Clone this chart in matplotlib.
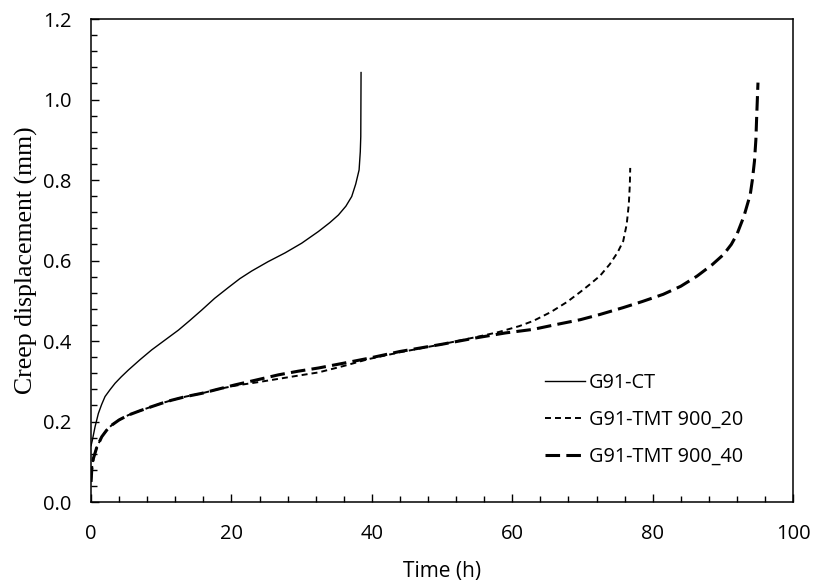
#!/usr/bin/env python3
"""Creep displacement vs. time for G91 specimens."""

import matplotlib

matplotlib.use("Agg")
import matplotlib.pyplot as plt
from matplotlib.ticker import MultipleLocator, FormatStrFormatter

plt.rcParams["font.family"] = ["Open Sans", "DejaVu Sans"]
plt.rcParams["lines.scale_dashes"] = False

# G91-CT
ct_time = [0, 0.19, 0.57, 1.04, 1.5, 1.99, 2.7, 3.42, 4.3, 5.32, 7.0, 8.64,
           10.5, 12.44, 14.0, 15.77, 17.6, 19.56, 21.2, 22.89, 25.2, 27.64,
           30.0, 32.38, 34.0, 35.23, 36.3, 37.13, 37.7, 38.18, 38.35, 38.42,
           38.46]
ct_disp = [0.14, 0.154, 0.187, 0.220, 0.242, 0.262, 0.279, 0.295, 0.311,
           0.328, 0.354, 0.378, 0.402, 0.427, 0.450, 0.477, 0.506, 0.533,
           0.555, 0.574, 0.597, 0.619, 0.643, 0.672, 0.694, 0.713, 0.735,
           0.759, 0.79, 0.825, 0.87, 0.908, 1.067]

# G91-TMT 900_20
tmt20_time = [0, 0.1, 0.33, 0.8, 1.52, 2.2, 2.94, 4.0, 5.32, 7.0, 8.64, 10.0,
              11.49, 13.5, 15.77, 18.0, 20.5, 23.5, 26.7, 29.5, 32.4, 36.0,
              39.5, 44.0, 50.0, 54.9, 58.0, 61.0, 63.0, 65.5, 67.8, 69.7, 71.0,
              72.5, 73.9, 75.0, 75.8, 76.3, 76.6, 76.75, 76.8]
tmt20_disp = [0.05, 0.08, 0.108, 0.135, 0.162, 0.178, 0.191, 0.204, 0.216,
              0.227, 0.237, 0.245, 0.253, 0.262, 0.270, 0.280, 0.289, 0.297,
              0.306, 0.314, 0.322, 0.338, 0.355, 0.372, 0.392, 0.41, 0.422,
              0.437, 0.45, 0.472, 0.497, 0.522, 0.54, 0.562, 0.591, 0.62,
              0.648, 0.69, 0.74, 0.79, 0.83]

# G91-TMT 900_40
tmt40_time = [0, 0.1, 0.33, 0.8, 1.52, 2.2, 2.94, 4.0, 5.32, 7.0, 8.64, 10.0,
              11.49, 13.5, 15.77, 18.0, 20.5, 23.5, 26.7, 29.5, 32.4, 36.0,
              39.5, 44.0, 50.0, 54.9, 59.0, 63.0, 66.0, 69.7, 72.5, 75.8, 78.5,
              81.5, 84.0, 86.3, 88.5, 90.1, 91.2, 92.0, 93.0, 93.9, 94.2, 94.5,
              94.7, 94.8, 95.0]
tmt40_disp = [0.05, 0.08, 0.108, 0.135, 0.162, 0.178, 0.191, 0.204, 0.216,
              0.227, 0.237, 0.245, 0.253, 0.262, 0.270, 0.280, 0.291, 0.303,
              0.316, 0.325, 0.333, 0.345, 0.357, 0.374, 0.392, 0.408, 0.42,
              0.429, 0.44, 0.453, 0.466, 0.483, 0.498, 0.516, 0.536, 0.561,
              0.59, 0.615, 0.64, 0.665, 0.71, 0.764, 0.80, 0.847, 0.90, 0.95,
              1.042]

labels = ["G91-CT", "G91-TMT 900_20", "G91-TMT 900_40"]

fig = plt.figure(figsize=(8.13, 5.83), dpi=100)
ax = fig.add_axes([0.112, 0.1389, 0.8635, 0.8285])

ax.plot(ct_time, ct_disp, color="black", linewidth=1.0, label=labels[0])
ax.plot(tmt20_time, tmt20_disp, color="black", linewidth=1.4,
        dashes=(4.3, 2.9), label=labels[1])
ax.plot(tmt40_time, tmt40_disp, color="black", linewidth=2.2,
        dashes=(10.5, 4.5), label=labels[2])

ax.set_xlim(0, 100)
ax.set_ylim(0, 1.2)
ax.xaxis.set_major_locator(MultipleLocator(20))
ax.xaxis.set_minor_locator(MultipleLocator(4))
ax.yaxis.set_major_locator(MultipleLocator(0.2))
ax.yaxis.set_minor_locator(MultipleLocator(0.04))
ax.yaxis.set_major_formatter(FormatStrFormatter("%.1f"))
ax.tick_params(which="both", direction="in", top=False, right=False,
               labelsize=14.5, width=1.0)
ax.tick_params(axis="x", which="major", length=6, pad=16)
ax.tick_params(axis="x", which="minor", length=4.5)
ax.tick_params(axis="y", which="major", length=6, pad=14)
ax.tick_params(axis="y", which="minor", length=4.5)
for spine in ax.spines.values():
    spine.set_linewidth(1.1)

ax.set_xlabel("Time (h)", fontsize=15, labelpad=12)
ax.set_ylabel("Creep displacement (mm)", fontsize=18.5,
              family="Liberation Serif", labelpad=4)

ax.legend(loc="center left", bbox_to_anchor=(0.647, 0.170), frameon=False,
          fontsize=14.3, handlelength=2.0, handletextpad=0.2,
          labelspacing=0.85, borderpad=0, borderaxespad=0)

fig.savefig("out.png", dpi=100)
